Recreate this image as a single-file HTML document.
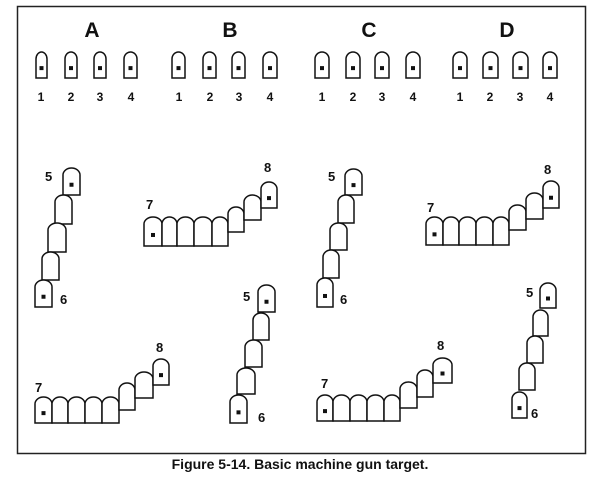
<!DOCTYPE html>
<html><head><meta charset="utf-8"><style>
html,body{margin:0;padding:0;background:#fff;}
svg{display:block;}
text{font-family:"Liberation Sans",Arial,sans-serif;font-weight:bold;fill:#111;}
</style></head><body>
<svg id="s" width="610" height="480" viewBox="0 0 610 480" xmlns="http://www.w3.org/2000/svg">
<rect x="0" y="0" width="610" height="480" fill="#fff"/>
<rect x="17.5" y="6.5" width="568" height="447" fill="none" stroke="#222" stroke-width="1.5"/>
<g font-size="21" text-anchor="middle">
<text x="92" y="37">A</text><text x="230" y="37">B</text><text x="369" y="37">C</text><text x="507" y="37">D</text>
</g>
<g font-size="12" text-anchor="middle">
<text x="41" y="101">1</text><text x="71" y="101">2</text><text x="100" y="101">3</text><text x="131" y="101">4</text>
<text x="179" y="101">1</text><text x="210" y="101">2</text><text x="239" y="101">3</text><text x="270" y="101">4</text>
<text x="322" y="101">1</text><text x="353" y="101">2</text><text x="382" y="101">3</text><text x="413" y="101">4</text>
<text x="460" y="101">1</text><text x="490" y="101">2</text><text x="520" y="101">3</text><text x="550" y="101">4</text>
</g>
<g font-size="13">
<text x="45" y="181">5</text><text x="60" y="304">6</text>
<text x="146" y="209">7</text><text x="264" y="172">8</text>
<text x="35" y="392">7</text><text x="156" y="352">8</text>
<text x="243" y="301">5</text><text x="258" y="422">6</text>
<text x="328" y="181">5</text><text x="340" y="304">6</text>
<text x="427" y="212">7</text><text x="544" y="174">8</text>
<text x="321" y="388">7</text><text x="437" y="350">8</text>
<text x="526" y="297">5</text><text x="531" y="418">6</text>
</g>
<g id="t" fill="#fff" stroke="#111" stroke-width="1.5"></g>
</svg>
<script>
var g=document.getElementById('t');
function T(x1,y1,x2,y2,dot){
 var w=x2-x1,h=y2-y1,r=w/2,ry=Math.min(7,h/3);
 var p=document.createElementNS('http://www.w3.org/2000/svg','path');
 p.setAttribute('d','M'+x1+' '+y2+' V'+(y1+ry)+' A'+r+' '+ry+' 0 0 1 '+x2+' '+(y1+ry)+' V'+y2+' Z');
 g.appendChild(p);
 if(dot){var q=document.createElementNS('http://www.w3.org/2000/svg','rect');
 q.setAttribute('x',(x1+x2)/2-2);q.setAttribute('y',y1+h*0.62-2);q.setAttribute('width',4);q.setAttribute('height',4);
 q.setAttribute('fill','#111');q.setAttribute('stroke','none');g.appendChild(q);}
}
[[36,47],[65,77],[94,106],[124,137],[172,185],[203,216],[232,245],[263,277],[315,329],[346,360],[375,389],[406,420],[453,467],[483,498],[513,528],[543,557]].forEach(function(a){T(a[0],52,a[1],78,1);});
T(63,168,80,195,1);T(55,195,72,224,0);T(48,223,66,252,0);T(42,252,59,280,0);T(35,280,52,307,1);
[[144,162,1],[162,177],[177,194],[194,212],[212,228]].forEach(function(a){T(a[0],217,a[1],246,a[2]);});
T(228,207,244,232,0);T(244,195,261,220,0);T(261,182,277,208,1);
[[35,52,1],[52,68],[68,85],[85,102],[102,119]].forEach(function(a){T(a[0],397,a[1],423,a[2]);});
T(119,383,135,410,0);T(135,372,153,398,0);T(153,359,169,385,1);
T(258,285,275,312,1);T(253,313,269,340,0);T(245,340,262,367,0);T(237,368,255,394,0);T(230,395,247,423,1);
T(345,169,362,195,1);T(338,195,354,223,0);T(330,223,347,250,0);T(323,250,339,278,0);T(317,278,333,307,1);
[[426,443,1],[443,459],[459,476],[476,493],[493,509]].forEach(function(a){T(a[0],217,a[1],245,a[2]);});
T(509,205,526,230,0);T(526,193,543,219,0);T(543,181,559,208,1);
[[317,333,1],[333,350],[350,367],[367,384],[384,400]].forEach(function(a){T(a[0],395,a[1],421,a[2]);});
T(400,382,417,408,0);T(417,370,433,397,0);T(433,358,452,383,1);
T(540,283,556,308,1);T(533,310,548,336,0);T(527,336,543,363,0);T(519,363,535,390,0);T(512,392,527,418,1);
</script>
<div style="position:absolute;left:0;top:456px;width:600px;text-align:center;font-family:'Liberation Sans',Arial,sans-serif;font-weight:bold;font-size:14px;color:#111;">Figure 5-14. Basic machine gun target.</div>
</body></html>
